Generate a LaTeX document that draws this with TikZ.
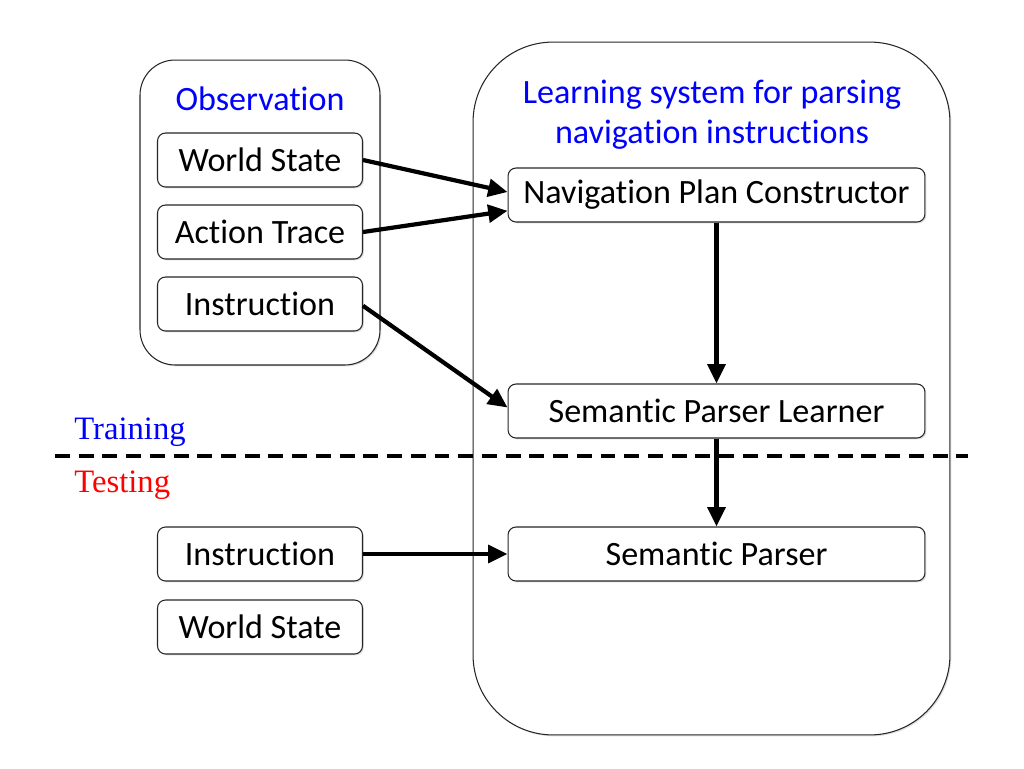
\documentclass[tikz,border=0pt]{standalone}
\usepackage{fontspec}
\setmainfont{Carlito}[Ligatures=NoCommon]
\newfontfamily\timesf{Liberation Serif}
\usetikzlibrary{arrows.meta,shadows}
\begin{document}
\begin{tikzpicture}[x=0.02cm,y=-0.02cm,
  txt/.style={font=\fontsize{19.4}{22}\selectfont},
  box/.style={draw=black!85,line width=0.6pt,fill=white,rounded corners=0.16cm,inner sep=0pt,
    minimum height=1.08cm,txt,
    drop shadow={opacity=0.25,shadow xshift=0.8pt,shadow yshift=-0.8pt}},
  small/.style={box,minimum width=4.1cm},
  wide/.style={box,minimum width=8.34cm},
  group/.style={draw=black!85,line width=0.6pt,fill=white,inner sep=0pt,
    drop shadow={opacity=0.25,shadow xshift=0.8pt,shadow yshift=-0.8pt}},
  arr/.style={line width=2.4pt,-{Triangle[length=11pt,width=10pt]}},
  lbl/.style={txt,text=blue}
]
\useasboundingbox (0,0) rectangle (1024,768);
% group boxes
\node[group,rounded corners=0.7cm,minimum width=4.8cm,minimum height=6.1cm] (obs) at (260,212.5) {};
\node[group,rounded corners=1.6cm,minimum width=9.54cm,minimum height=13.86cm] (sys) at (711.5,388.5) {};
% labels
\node[lbl] (obst) at (260,99) {Observation};
\node[lbl,align=center,text=blue,font=\fontsize{19.4}{22.7}\selectfont] (syst) at (712,115) {Learning system for parsing\\navigation instructions};
% observation boxes
\node[small] (ws) at (260,160) {World State};
\node[small] (at) at (260,232) {Action Trace};
\node[small] (in) at (260,304) {Instruction};
% system boxes
\node[wide] (npc) at (716.5,195) {Navigation Plan Constructor};
\node[wide] (spl) at (716.5,411) {Semantic Parser Learner};
\node[wide] (sp) at (716.5,554) {Semantic Parser};
% testing boxes
\node[small] (tin) at (260,554) {Instruction};
\node[small] (tws) at (260,627) {World State};
% training / testing
\node[anchor=west,inner sep=0pt,text=blue,font=\timesf\fontsize{18.6}{22}\selectfont] (train) at (74,432) {Training};
\node[anchor=west,inner sep=0pt,text=red,font=\timesf\fontsize{18.6}{22}\selectfont] (test) at (74,485) {Testing};
\coordinate (dl) at (55,456);
\coordinate (dr) at (968,456);
\draw[line width=1.9pt,dash pattern=on 8.5pt off 5pt] (dl) -- (dr);
% arrows
\draw[arr] (ws.east) -- ([yshift=1.7pt]npc.west);
\draw[arr] (at.east) -- ([yshift=-9pt]npc.west);
\draw[arr] ([yshift=-1pt]in.east) -- ([yshift=2pt]spl.west);
\draw[arr] (npc.south) -- (spl.north);
\draw[arr] (spl.south) -- (sp.north);
\draw[arr] (tin.east) -- (sp.west);
\end{tikzpicture}
\end{document}
